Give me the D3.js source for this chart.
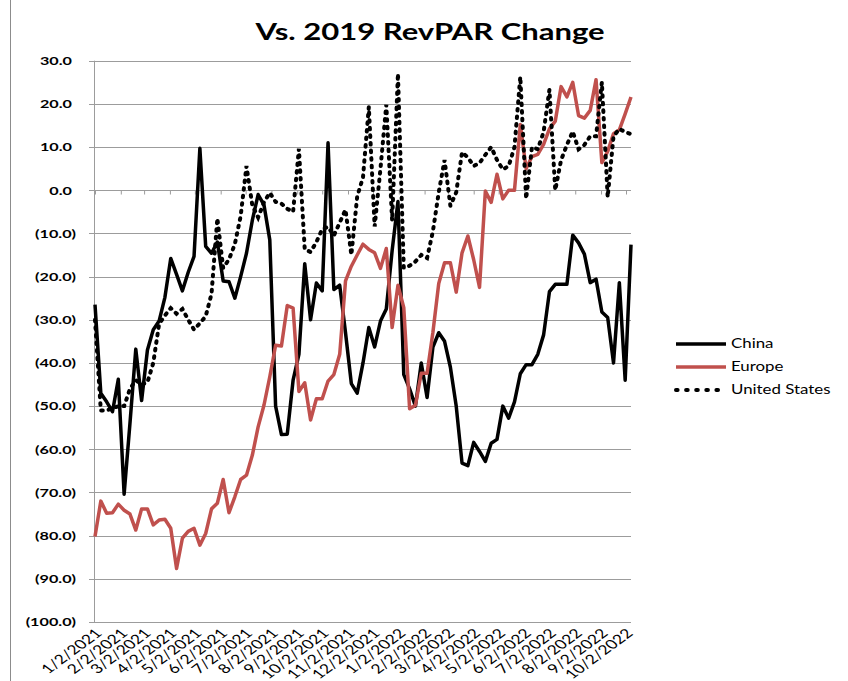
<!DOCTYPE html>
<html>
<head>
<meta charset="utf-8">
<script src="https://cdn.jsdelivr.net/npm/d3@7"></script>
<style>
  body { margin: 0; background: #fff; }
  svg text { font-family: Lato, "Open Sans", sans-serif; fill: #000; }
</style>
</head>
<body>
<svg id="chart" width="848" height="681"></svg>
<script>
// month labels along the bottom
var tickLabels = ["1/2/2021", "2/2/2021", "3/2/2021", "4/2/2021", "5/2/2021", "6/2/2021",
  "7/2/2021", "8/2/2021", "9/2/2021", "10/2/2021", "11/2/2021", "12/2/2021",
  "1/2/2022", "2/2/2022", "3/2/2022", "4/2/2022", "5/2/2022", "6/2/2022",
  "7/2/2022", "8/2/2022", "9/2/2022", "10/2/2022"];
var yTicks = [30, 20, 10, 0, -10, -20, -30, -40, -50, -60, -70, -80, -90, -100];
var seriesNames = ["China", "Europe", "United States"];

// weekly observations, first week = 1/2/2021
var weekStart = "1/2/2021";
var china = [-26.5, -47, -49, -51.3, -43.8, -70.4, -54, -36.8, -48.7, -37,
  -32.3, -30.3, -24.8, -15.8, -19.5, -23.3, -19, -15.3, 9.7, -13,
  -14.6, -12, -21, -21.2, -25, -20, -14.6, -7, -1, -3.4,
  -11.5, -50, -56.6, -56.5, -44, -38, -17, -30, -21.5, -23.3,
  11, -23, -22, -33, -44.8, -47, -40, -31.8, -36.3, -30.3,
  -27.5, -14, -2.6, -42.7, -46, -50, -40, -48, -36.3, -33,
  -35, -41, -50, -63.2, -63.8, -58.4, -60.5, -62.8, -58.6, -57.7,
  -50, -52.8, -49, -42.5, -40.4, -40.4, -38, -33.5, -23.5, -21.8,
  -21.8, -21.8, -10.4, -12.2, -14.8, -21.4, -20.6, -28.2, -29.5, -40,
  -21.4, -44, -12.6];
var europe = [-80.2, -72, -74.8, -74.7, -72.7, -74.1, -75, -78.7, -73.8, -73.8,
  -77.5, -76.4, -76.2, -78.3, -87.6, -80.6, -79, -78.3, -82.2, -79.5,
  -73.8, -72.5, -67, -74.7, -71, -67, -66, -61.4, -54.8, -49.8,
  -43.2, -35.9, -36.1, -26.7, -27.3, -46.6, -44.6, -53.2, -48.3, -48.3,
  -44.2, -42.7, -38, -21, -17.6, -15, -12.5, -13.7, -14.5, -18.1,
  -13.5, -31.8, -22, -27.2, -50.6, -49.8, -42.4, -42.4, -32.9, -21.6,
  -16.8, -16.8, -23.6, -14.5, -10.6, -16.1, -22.5, -0.2, -2.8, 3.7,
  -2, 0, 0, 15.2, 5, 7.8, 8.3, 10.6, 14.2, 16,
  24, 21.6, 25, 17.3, 16.7, 18.5, 25.6, 6.4, 9, 13.1,
  14, 17.7, 21.6];
var unitedStates = [-30, -51, -51, -50.5, -50, -50, -46, -44, -45, -44.5,
  -40, -31, -29, -27.3, -28.6, -27.5, -30, -32.3, -30.8, -29.2,
  -24, -6.5, -18, -16, -12.5, -6, 5.6, -3.5, -6.3, -2.8,
  -0.6, -2.7, -3.1, -4.3, -5, 9.6, -13.7, -14.3, -12, -9,
  -8.5, -10.5, -7.5, -4.5, -15, -1.5, 3, 19.3, -8.4, 5,
  19.8, -7, 27, -18, -17.5, -16.5, -15, -15.7, -9.5, -0.5,
  7, -3.6, -0.5, 8.8, 7.6, 5.6, 6.3, 8.2, 10, 7,
  4.8, 5.6, 10, 26.3, -2, 10, 9.5, 13.5, 23.3, 0,
  7, 10.5, 13.6, 9.5, 10.5, 12.5, 12.5, 25, -1.6, 12.5,
  14.2, 13.5, 13];

var S = 1.35; // the picture is stretched sideways, text too
var plotLeft = 95, plotRight = 631, plotTop = 60.7, plotBottom = 622;
var svg = d3.select("#chart");
var parse = d3.timeParse("%m/%d/%Y");
var start = parse(weekStart);
var weeks = china.map(function (d, i) { return d3.timeDay.offset(start, 7 * i); });
var months = tickLabels.map(parse);

var x = d3.scaleTime()
    .domain([weeks[0], weeks[weeks.length - 1]])
    .range([plotLeft, plotRight]);
var y = d3.scaleLinear()
    .domain([-100, 30])
    .range([plotBottom, plotTop]);

// left border of the chart area
svg.append("line")
    .attr("x1", 10.5).attr("x2", 10.5).attr("y1", 0).attr("y2", 681)
    .attr("stroke", "#8c8c8c");

// gridlines
svg.append("g").selectAll("line")
    .data(yTicks)
    .enter()
    .append("line")
    .attr("x1", plotLeft - 6).attr("x2", plotRight)
    .attr("y1", function (d) { return Math.round(y(d)) + 0.5; })
    .attr("y2", function (d) { return Math.round(y(d)) + 0.5; })
    .attr("stroke", "#9c9c9c");

svg.append("line")
    .attr("x1", plotLeft - 0.5).attr("x2", plotLeft - 0.5)
    .attr("y1", plotTop).attr("y2", plotBottom)
    .attr("stroke", "#9c9c9c");

// y labels
var yAxis = d3.axisLeft(y).tickValues(yTicks).tickSize(0)
    .tickFormat(function (d) {
      var s = d3.format(".1f")(Math.abs(d));
      return d < 0 ? "(" + s + ")" : s;
    });
var gy = svg.append("g").attr("transform", "translate(" + plotLeft + ",0)").call(yAxis);
gy.select(".domain").remove();
gy.selectAll("text")
    .attr("x", 0)
    .attr("transform", function (d) {
      return "translate(" + (d < 0 ? -19 : -23) + ",0) scale(" + S + ",1)";
    })
    .style("font-family", "Lato, sans-serif")
    .style("font-size", "12px")
    .style("font-weight", "bold")
    .attr("fill", "#000");

// small ticks on the zero line
var xTicks = d3.axisBottom(x).tickValues(months).tickSize(4).tickSizeOuter(0).tickFormat("");
var gx = svg.append("g").attr("transform", "translate(0," + (Math.round(y(0)) + 0.5) + ")").call(xTicks);
gx.select(".domain").remove();
gx.selectAll("line").attr("stroke", "#9c9c9c");

// month labels
var xLabels = d3.axisBottom(x).tickValues(months).tickSize(0)
    .tickFormat(function (d, i) { return tickLabels[i]; });
var gl = svg.append("g").attr("transform", "translate(0," + plotBottom + ")").call(xLabels);
gl.select(".domain").remove();
gl.selectAll("text")
    .attr("y", 0)
    .attr("dy", "0.35em")
    .attr("transform", "translate(3,9) scale(" + S + ",1) rotate(-45)")
    .style("text-anchor", "end")
    .style("font-family", "Lato, sans-serif")
    .style("font-size", "13px")
    .attr("fill", "#000");

// series
var line = d3.line()
    .x(function (d, i) { return x(weeks[i]); })
    .y(function (d) { return y(d); });

svg.append("path").datum(china)
    .attr("d", line)
    .attr("fill", "none").attr("stroke", "#000")
    .attr("stroke-width", 3.5).attr("stroke-linejoin", "round");

svg.append("path").datum(europe)
    .attr("d", line)
    .attr("fill", "none").attr("stroke", "#C0504D")
    .attr("stroke-width", 3.5).attr("stroke-linejoin", "round");

svg.append("path").datum(unitedStates)
    .attr("d", line)
    .attr("fill", "none").attr("stroke", "#000")
    .attr("stroke-width", 4).attr("stroke-linecap", "round")
    .attr("stroke-dasharray", "1.6 6");

// legend
var legend = svg.append("g").selectAll("g")
    .data(seriesNames)
    .enter()
    .append("g")
    .attr("transform", function (d, i) { return "translate(676," + (344 + i * 23) + ")"; });

legend.append("line")
    .attr("x1", 0).attr("x2", 50)
    .attr("stroke", function (d, i) { return i === 1 ? "#C0504D" : "#000"; })
    .attr("stroke-width", function (d, i) { return i === 2 ? 4 : 3.5; })
    .attr("stroke-linecap", function (d, i) { return i === 2 ? "round" : "butt"; })
    .attr("stroke-dasharray", function (d, i) { return i === 2 ? "1.6 8.5" : null; });

legend.append("text")
    .attr("transform", "translate(55,0) scale(" + S + ",1)")
    .attr("dy", "0.35em")
    .style("font-size", "12.5px")
    .text(function (d) { return d; });

// title
svg.append("text")
    .attr("transform", "translate(430,40) scale(" + S + ",1)")
    .attr("text-anchor", "middle")
    .style("font-size", "23px")
    .style("font-weight", "bold")
    .text("Vs. 2019 RevPAR Change");
</script>
</body>
</html>
